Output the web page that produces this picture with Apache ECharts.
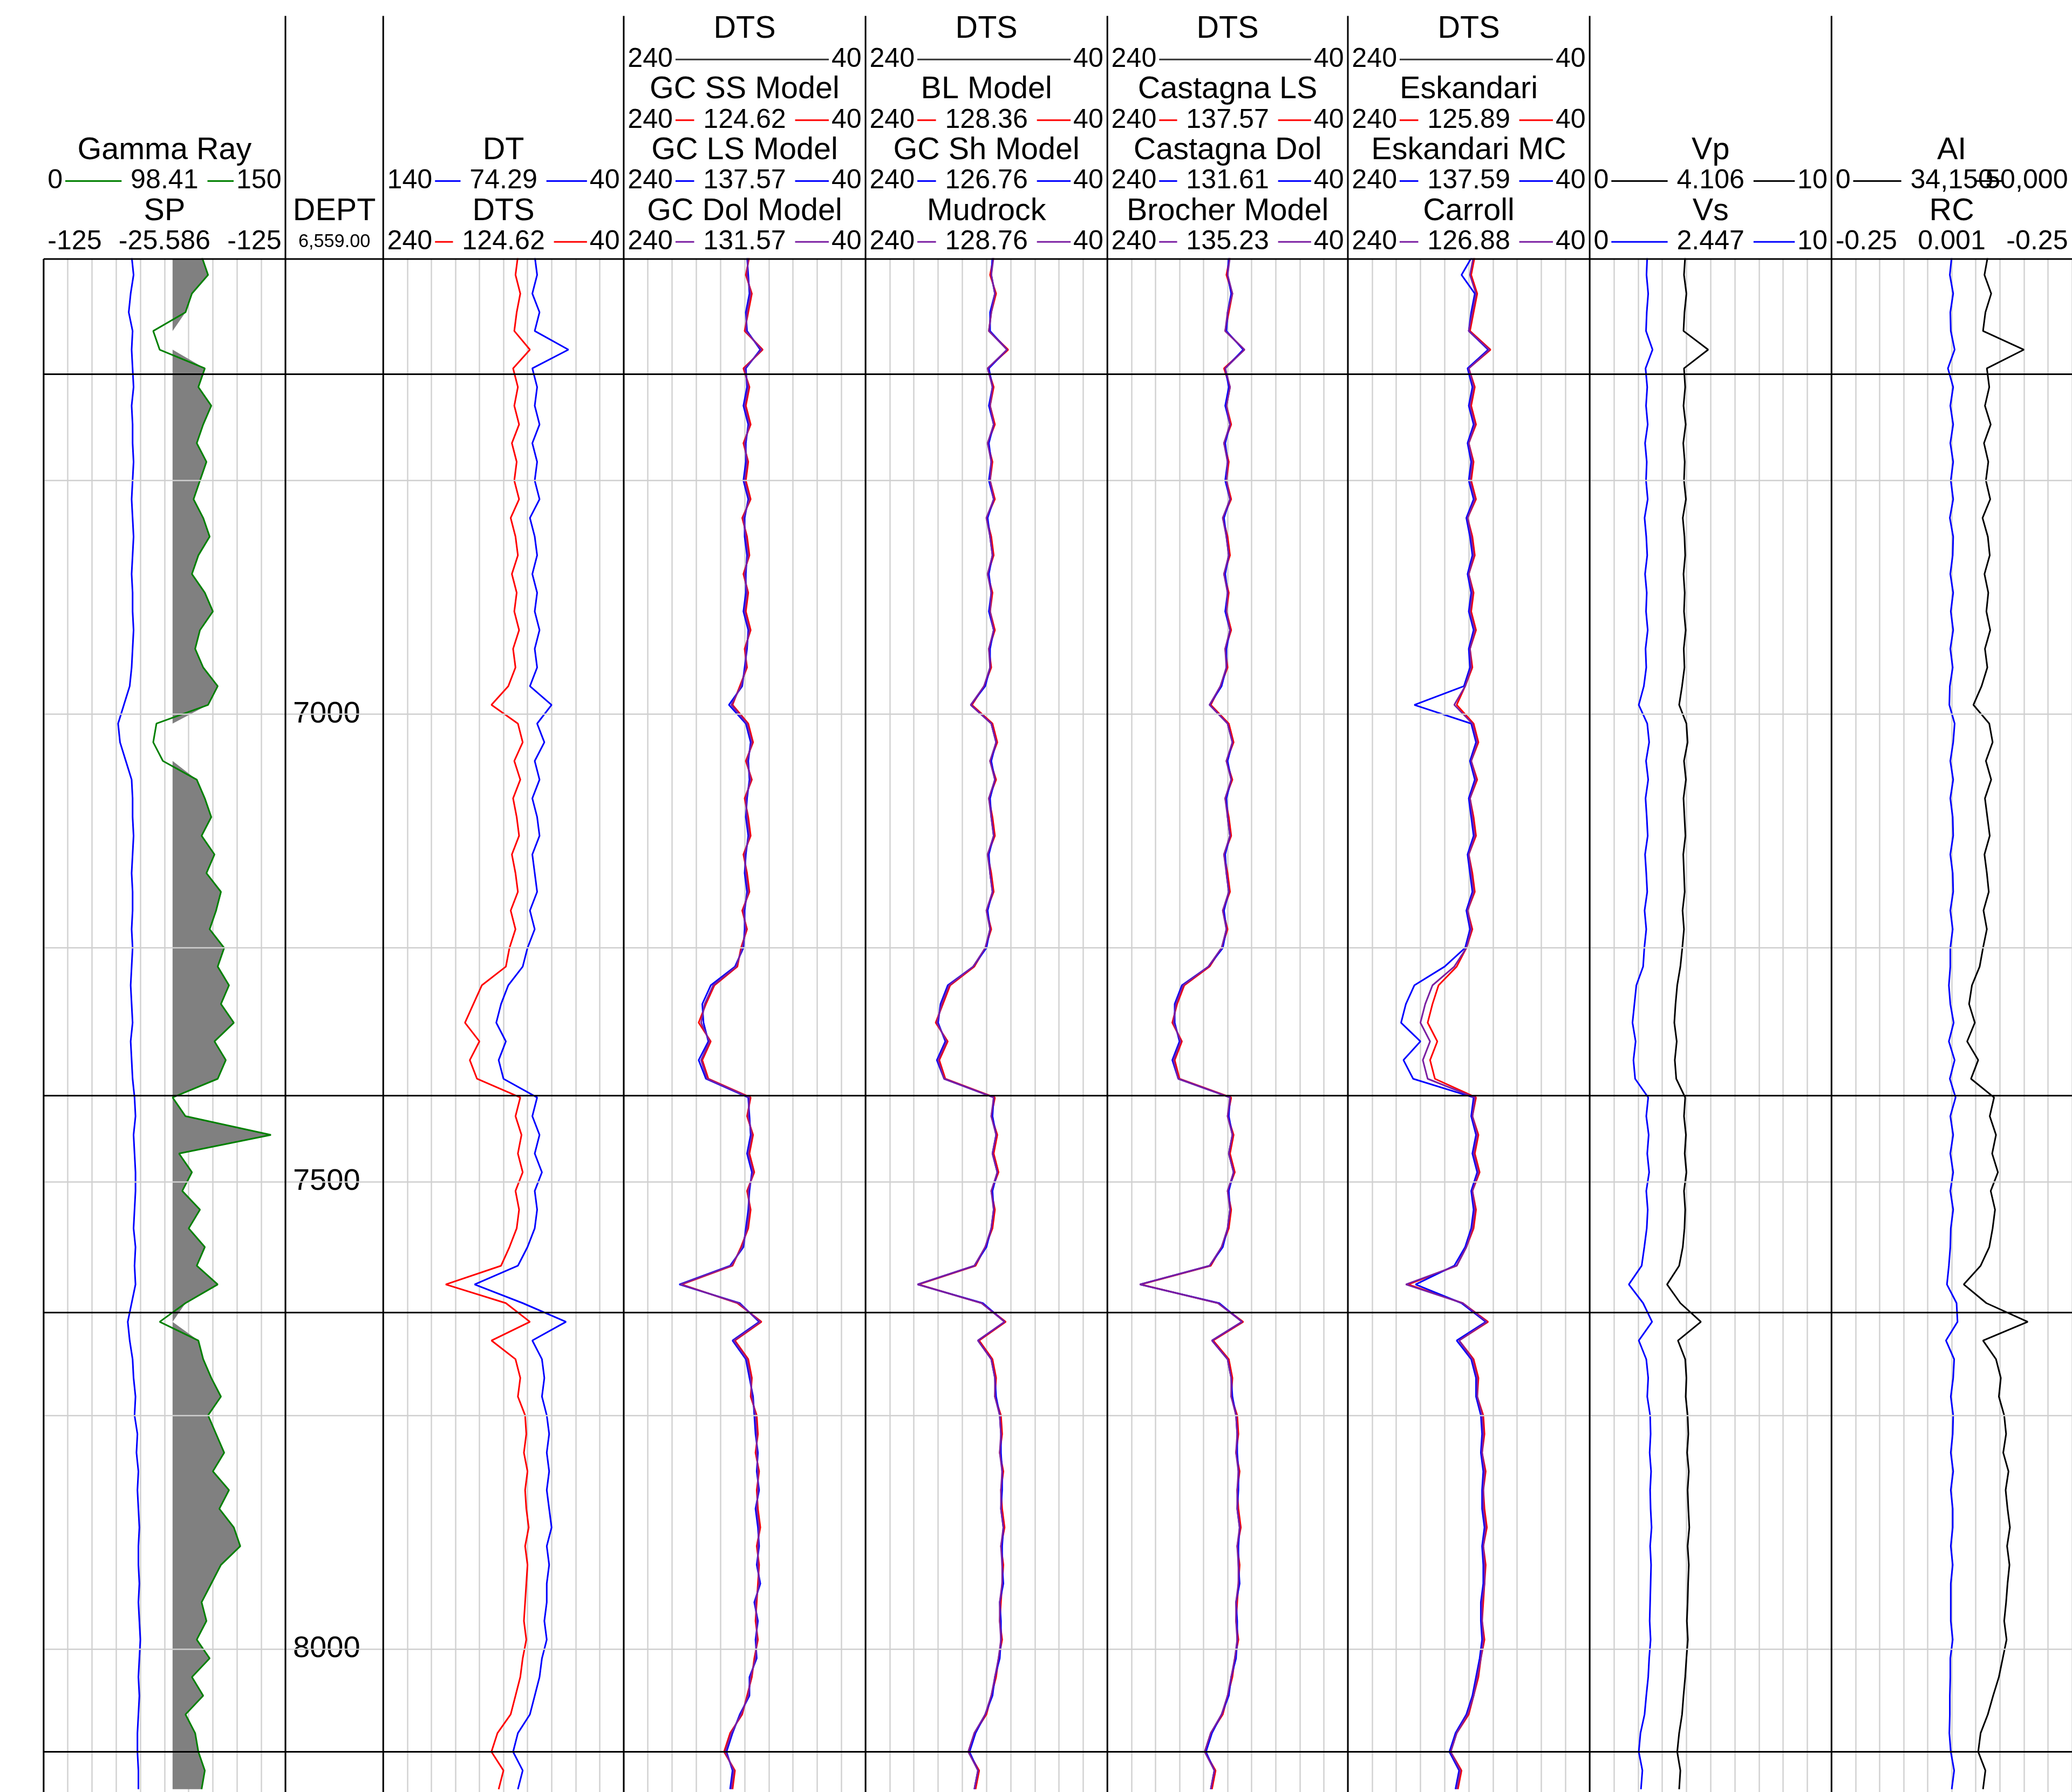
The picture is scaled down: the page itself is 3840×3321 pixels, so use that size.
<!DOCTYPE html>
<html>
<head>
<meta charset="utf-8">
<script src="https://cdn.jsdelivr.net/npm/echarts@6/dist/echarts.min.js"></script>
<style>html,body{margin:0;padding:0;background:#fff}#chart{width:3840px;height:3321px}</style>
</head>
<body>
<div id="chart"></div>
<script>
// depth samples every 20 ft
var depth = [];
for (var d = 6510; d <= 8150; d += 20) depth.push(d);

var gr = [98,102,92,88,68,72,100,96,104,99, 95,101,97,93,99,103,96,92,100,105, 97,94,99,108,102,70,68,74,95,100,
  104,98,106,101,110,107,103,112,108,115, 110,118,106,113,108,80,88,141,84,92, 86,97,90,100,95,108,88,72,96,99,
  104,110,102,107,112,105,115,109,118,122, 110,104,98,101,95,103,92,99,88,94, 96,100,98];
var sp = [-34,-32,-35,-37,-33,-34,-33,-32,-34,-33, -33,-32,-33,-34,-33,-32,-33,-34,-33,-33, -32,-33,-34,-36,-42,-48,-46,-40,-34,-33,
  -33,-32,-33,-34,-33,-33,-34,-33,-34,-35, -34,-33,-35,-34,-33,-31,-30,-32,-31,-30, -30,-31,-32,-30,-31,-30,-34,-38,-36,-33,
  -32,-30,-31,-28,-29,-27,-28,-27,-26,-27, -27,-26,-27,-26,-25,-26,-27,-26,-27,-28, -28,-27,-27];
var dt = [77,76,78,75,77,63,78,76,77,75, 78,76,77,75,79,77,76,78,76,77, 75,77,76,79,70,76,73,77,75,78,
  76,75,78,77,76,79,77,80,82,88, 91,93,89,92,90,76,78,75,77,74, 77,76,77,80,84,102,82,64,78,74,
  73,74,72,71,72,71,72,71,70,72, 71,72,72,73,72,74,75,77,79,84, 86,82,84];
var dts = [128,130,126,129,131,118,132,128,131,127, 133,129,131,127,134,130,128,133,129,131, 127,132,130,136,150,128,124,131,126,132,
  129,127,133,130,128,134,130,135,138,158, 165,172,160,168,162,126,130,125,128,124, 130,127,129,135,142,188,138,118,150,130,
  126,128,122,121,123,120,122,121,119,122, 120,121,122,123,121,124,126,130,134,145, 150,140,144];
var gcSS = [136,139,134,137,140,125,141,136,139,135, 141,137,139,135,142,138,136,141,137,139, 135,140,138,144,150,137,133,139,134,140,
  137,135,141,138,136,142,138,143,146,165, 172,178,168,175,170,135,138,133,136,132, 138,135,137,143,150,192,146,126,148,137,
  134,135,130,129,131,128,130,129,127,130, 128,129,130,131,129,132,134,138,142,152, 157,148,150];
var gcLS = [138,137,136,139,138,127,139,138,141,137, 139,139,141,137,140,140,138,139,139,141, 137,138,140,142,153,139,135,137,136,138,
  139,137,139,140,138,140,140,141,148,168, 175,174,170,178,172,137,136,135,138,134, 136,137,139,141,152,194,144,128,150,139,
  136,133,132,131,129,130,128,131,129,128, 130,127,132,129,131,130,136,136,144,150, 155,150,152];
var gcDol = [137,138,135,138,139,126,140,137,140,136, 140,138,140,136,141,139,137,140,138,140, 136,139,139,143,151,138,134,138,135,139,
  138,136,140,139,137,141,139,142,147,166, 173,176,169,176,171,136,137,134,137,133, 137,136,138,142,151,193,145,127,149,138,
  135,134,131,130,130,129,129,130,128,129, 129,128,131,130,130,131,135,137,143,151, 156,149,151];
var blModel = [134,137,132,136,138,122,139,134,137,133, 139,135,137,133,140,136,134,139,135,137, 133,138,136,142,152,135,131,137,132,138,
  135,133,139,136,134,140,136,141,150,170, 176,182,172,179,174,133,136,131,134,130, 136,133,135,141,149,196,144,124,146,135,
  132,133,128,127,129,126,128,127,125,128, 126,127,128,129,127,130,132,136,140,150, 155,146,149];
var gcSh = [135,136,133,137,137,123,138,135,138,134, 138,136,138,134,139,137,135,138,136,138, 134,137,137,141,153,136,132,136,133,137,
  136,134,138,137,135,139,137,140,151,172, 178,180,174,181,175,134,135,132,135,131, 135,134,136,140,150,197,143,125,147,136,
  133,132,129,128,128,127,127,128,126,127, 127,126,129,128,128,129,133,135,141,149, 154,147,150];
var mudrock = [134,136,133,136,138,123,139,135,137,134, 139,136,137,134,140,137,135,139,136,137, 134,138,137,142,153,136,132,137,133,138,
  136,134,139,137,135,140,137,141,151,171, 177,181,173,180,175,134,136,132,135,131, 136,134,136,141,150,197,144,125,147,136,
  133,133,129,128,129,127,128,128,126,128, 127,127,129,129,128,130,133,136,141,150, 155,147,150];
var casLS = [138,141,136,139,142,126,143,138,141,137, 143,139,141,137,144,140,138,143,139,141, 137,142,140,146,154,139,135,141,136,142,
  139,137,143,140,138,144,140,145,155,176, 182,186,178,184,180,137,140,135,138,134, 140,137,139,145,154,212,148,127,152,139,
  136,137,132,131,133,130,132,131,129,132, 130,131,132,133,131,134,136,140,144,154, 159,150,153];
var casDol = [139,140,137,140,141,127,142,139,142,138, 142,140,142,138,143,141,139,142,140,142, 138,141,141,145,155,140,136,140,137,141,
  140,138,142,141,139,143,141,144,156,178, 184,184,180,186,181,138,139,136,139,135, 139,138,140,144,155,213,147,128,153,140,
  137,136,133,132,132,131,131,132,130,131, 131,130,133,132,132,133,137,139,145,153, 158,151,154];
var brocher = [138,140,136,140,142,126,142,138,141,138, 143,140,141,138,144,141,139,143,140,141, 138,142,141,146,155,140,136,141,137,142,
  140,138,143,141,139,144,141,145,156,177, 183,185,179,185,181,138,140,136,139,135, 140,138,140,145,155,213,148,128,153,140,
  137,137,133,132,133,131,132,132,130,132, 131,131,133,133,132,134,137,140,145,154, 159,151,154];
var eskandari = [135,138,133,136,139,122,140,135,138,134, 140,136,138,134,141,137,135,140,136,138, 134,139,137,143,150,136,132,138,133,139,
  136,134,140,137,135,141,137,142,150,165, 170,174,166,172,168,134,137,132,135,131, 137,134,136,142,150,190,145,124,148,136,
  132,133,128,127,129,126,128,127,125,128, 126,127,128,129,127,130,132,136,140,150, 155,146,149];
var eskMC = [137,146,135,138,140,124,141,137,140,136, 141,138,140,136,142,139,137,141,138,140, 136,140,139,144,185,138,134,139,135,140,
  138,136,141,139,137,142,139,143,160,185, 192,196,180,194,186,136,138,134,137,133, 138,136,138,143,152,184,146,126,150,138,
  134,134,130,129,130,128,129,129,127,129, 128,128,130,130,129,131,134,137,142,151, 156,148,151];
var carroll = [136,139,134,137,140,123,140,136,139,135, 140,137,139,135,141,138,136,140,137,139, 135,139,138,143,152,137,133,138,134,139,
  137,135,140,138,136,141,138,142,152,170, 176,180,172,178,174,135,137,133,136,132, 137,135,137,142,150,192,145,125,148,137,
  133,133,129,128,129,127,128,128,126,128, 127,127,129,129,128,130,133,136,141,150, 155,147,150];
var vp = [3.95,3.9,4.0,3.92,3.88,4.9,3.9,3.95,3.88,3.97, 3.87,3.93,3.9,3.98,3.85,3.92,3.95,3.88,3.93,3.9, 3.97,3.89,3.92,3.82,3.7,4.0,4.05,3.9,3.98,3.88,
  3.92,3.96,3.87,3.9,3.93,3.84,3.9,3.83,3.75,3.62, 3.55,3.5,3.6,3.52,3.58,3.95,3.9,3.98,3.93,4.0, 3.9,3.95,3.92,3.85,3.7,3.2,3.75,4.6,3.65,3.95,
  4.0,3.97,4.05,4.08,4.03,4.1,4.05,4.08,4.12,4.05, 4.1,4.07,4.05,4.02,4.06,4.0,3.95,3.88,3.82,3.7, 3.62,3.75,3.7];
var vs = [2.38,2.35,2.42,2.36,2.33,2.6,2.31,2.38,2.33,2.4, 2.29,2.36,2.33,2.4,2.27,2.34,2.38,2.29,2.36,2.33, 2.4,2.31,2.34,2.24,2.03,2.38,2.46,2.33,2.42,2.31,
  2.36,2.4,2.29,2.34,2.38,2.27,2.34,2.26,2.21,1.93, 1.85,1.77,1.9,1.81,1.88,2.42,2.34,2.44,2.38,2.46, 2.34,2.4,2.36,2.26,2.15,1.62,2.21,2.58,2.03,2.34,
  2.42,2.38,2.5,2.52,2.48,2.54,2.5,2.52,2.56,2.5, 2.54,2.52,2.5,2.48,2.52,2.46,2.42,2.34,2.27,2.1, 2.03,2.18,2.12];
var ai = [32500,31800,33200,32000,31500,40000,32300,32800,31900,33100, 31700,32600,32100,33000,31400,32500,32900,31800,32600,32200,
  33000,31900,32400,31200,29500,32800,33500,32100,33200,31900, 32400,32900,31800,32300,32700,31600,32300,31500,30800,29200,
  28600,29800,28200,30500,29000,33800,32900,34200,33400,34600, 33100,34000,33500,32800,31000,27500,32200,40800,31500,34200,
  35200,34800,35900,36300,35700,36800,36200,36600,37100,36500, 37000,36600,36300,35900,36400,35600,34800,33600,32500,31000, 30500,32000,31500];
var rc = [0.0,-0.004,0.003,-0.003,-0.002,0.006,-0.008,0.003,-0.003,0.003, -0.003,0.003,-0.002,0.003,-0.004,0.003,0.002,-0.003,0.003,-0.002,
  0.003,-0.003,0.002,-0.004,-0.005,0.006,0.003,-0.003,0.003,-0.003, 0.002,0.003,-0.003,0.002,0.003,-0.003,0.002,-0.003,-0.003,-0.006,
  -0.003,0.004,-0.006,0.006,-0.004,0.008,-0.003,0.003,-0.003,0.003, -0.003,0.003,-0.002,-0.003,-0.006,-0.01,0.01,0.012,-0.012,0.005,
  0.003,-0.002,0.003,0.002,-0.002,0.003,-0.002,0.002,0.002,-0.002, 0.002,-0.002,-0.002,-0.002,0.002,-0.003,-0.003,-0.004,-0.004,-0.005, -0.002,0.005,0.0];

var zoneTops = [6636, 7408, 7640, 8110];
var gridDepths = [6750, 7000, 7250, 7500, 7750, 8000];
var depthLabels = [7000, 7500, 8000];
var GR_CUT = 80;

var S = 3840 / 1568;
function P(v) { return v * S; }
var trackX = [33, 216, 290, 472, 655, 838, 1020, 1203, 1386, 1568];
var TOP = 196, DMIN = 6513, DMAX = 8153;
var FONT = '"Liberation Sans", Arial, sans-serif';
var RED = '#ff0000', BLUE = '#0000ff', PURPLE = '#7b1fa2', GREEN = '#008000';

var chart = echarts.init(document.getElementById('chart'));

var grids = [], xAxes = [], yAxes = [], series = [];
for (var t = 0; t < 9; t++) {
  grids.push({ left: P(trackX[t]), width: P(trackX[t + 1] - trackX[t]), top: P(TOP), bottom: 0, show: false });
  yAxes.push({ gridIndex: t, type: 'value', inverse: true, min: DMIN, max: DMAX,
    show: t === 1, axisLine: { show: false }, axisTick: { show: false }, splitLine: { show: false },
    axisLabel: { show: t === 1, inside: true, customValues: depthLabels, fontSize: 56, color: '#000', fontFamily: FONT,
      margin: 14, formatter: function (v) { return String(v); } } });
  // frame axis: 10 vertical divisions
  xAxes.push({ gridIndex: t, type: 'value', min: 0, max: 10, interval: 1, show: true,
    axisLine: { show: false }, axisTick: { show: false }, axisLabel: { show: false },
    splitLine: { show: t !== 1, lineStyle: { color: '#d2d2d2', width: 2.5 } } });
  var ml = [];
  gridDepths.forEach(function (v) { ml.push({ yAxis: v, lineStyle: { color: '#cfcfcf', width: 2.5, type: 'solid' } }); });
  zoneTops.forEach(function (v) { ml.push({ yAxis: v, lineStyle: { color: '#000', width: 3, type: 'solid' } }); });
  series.push({ type: 'line', xAxisIndex: xAxes.length - 1, yAxisIndex: t, data: [[5, DMIN]], showSymbol: false,
    lineStyle: { opacity: 0 }, silent: true,
    markLine: { symbol: 'none', silent: true, label: { show: false }, animation: false, data: ml } });
}

function pts(arr) { return arr.map(function (v, i) { return [v, depth[i]]; }); }
function curve(track, min, max, inverse, arr, color, z) {
  xAxes.push({ gridIndex: track, type: 'value', min: min, max: max, inverse: inverse, show: false });
  var xi = xAxes.length - 1;
  series.push({ type: 'line', xAxisIndex: xi, yAxisIndex: track, data: pts(arr), showSymbol: false,
    animation: false, z: z || 3, lineStyle: { color: color, width: 3 }, itemStyle: { color: color } });
  return xi;
}

// track 0: GR with shale fill, SP
var grAxis = curve(0, 0, 150, false, gr, GREEN, 4);
series.push({ type: 'custom', xAxisIndex: grAxis, yAxisIndex: 0, data: [[GR_CUT, 7000]], clip: true, z: 2, animation: false,
  renderItem: function (params, api) {
    var p = gr.map(function (v, i) { return api.coord([Math.max(v, GR_CUT), depth[i]]); });
    p.push(api.coord([GR_CUT, depth[depth.length - 1]]));
    p.push(api.coord([GR_CUT, depth[0]]));
    return { type: 'polygon', shape: { points: p }, style: { fill: '#808080' } };
  } });
curve(0, -125, 125, false, sp, BLUE);
// track 2: DT / DTS
curve(2, 40, 140, true, dt, BLUE);
curve(2, 40, 240, true, dts, RED);
// model tracks
var models = [
  [3, gcSS, gcLS, gcDol], [4, blModel, gcSh, mudrock],
  [5, casLS, casDol, brocher], [6, eskandari, eskMC, carroll]
];
models.forEach(function (m) {
  curve(m[0], 40, 240, true, m[1], RED);
  curve(m[0], 40, 240, true, m[2], BLUE);
  curve(m[0], 40, 240, true, m[3], PURPLE, 4);
});
// track 7: Vp / Vs
curve(7, 0, 10, false, vs, BLUE);
curve(7, 0, 10, false, vp, '#000');
// track 8: AI / RC
curve(8, -0.25, 0.25, false, rc, BLUE);
curve(8, 0, 50000, false, ai, '#000');

// header and track frames
var g = [];
function txt(x, y, s, fs, align) {
  g.push({ type: 'text', x: P(x), y: P(y), z: 10, style: { text: s, fontSize: P(fs), fontFamily: FONT, fill: '#000',
    align: align || 'center', verticalAlign: 'middle' } });
}
function ln(x0, y0, x1, y1, color, w) {
  g.push({ type: 'line', z: 10, shape: { x1: P(x0), y1: P(y0), x2: P(x1), y2: P(y1) }, style: { stroke: color, lineWidth: w || 3 } });
}
function scaleRow(ti, y, l, m, r, color) {
  var x0 = trackX[ti], x1 = trackX[ti + 1], fs = 20.5, cw = 0.556 * fs;
  var cx = (x0 + x1) / 2;
  txt(x0 + 3, y, l, fs, 'left');
  txt(x1 - 3, y, r, fs, 'right');
  var la = x0 + 3 + l.length * cw + 2, rb = x1 - 3 - r.length * cw - 2;
  if (m) {
    var mw = m.length * cw;
    txt(cx, y, m, fs, 'center');
    if (color) { ln(la, y, cx - mw / 2 - 4, y, color); ln(cx + mw / 2 + 4, y, rb, y, color); }
  } else if (color) ln(la, y, rb, y, color);
}
function name(ti, y, s) { txt((trackX[ti] + trackX[ti + 1]) / 2, y, s, 23.5, 'center'); }

[216, 290, 472, 655, 838, 1020, 1203, 1386].forEach(function (x) { ln(x, 12, x, 1360, '#000', 3); });
ln(33, TOP, 33, 1360, '#000', 3);
ln(33, TOP, 1568, TOP, '#000', 3);

name(0, 114, 'Gamma Ray'); scaleRow(0, 137, '0', '98.41', '150', GREEN);
name(0, 160, 'SP'); scaleRow(0, 183, '-125', '-25.586', '-125', null);
name(1, 160, 'DEPT'); txt(253, 183, '6,559.00', 14, 'center');
name(2, 114, 'DT'); scaleRow(2, 137, '140', '74.29', '40', BLUE);
name(2, 160, 'DTS'); scaleRow(2, 183, '240', '124.62', '40', RED);

var modelHdr = [
  [3, 'GC SS Model', '124.62', 'GC LS Model', '137.57', 'GC Dol Model', '131.57'],
  [4, 'BL Model', '128.36', 'GC Sh Model', '126.76', 'Mudrock', '128.76'],
  [5, 'Castagna LS', '137.57', 'Castagna Dol', '131.61', 'Brocher Model', '135.23'],
  [6, 'Eskandari', '125.89', 'Eskandari MC', '137.59', 'Carroll', '126.88']
];
modelHdr.forEach(function (h) {
  name(h[0], 22, 'DTS'); scaleRow(h[0], 45, '240', '', '40', '#333');
  name(h[0], 68, h[1]); scaleRow(h[0], 91, '240', h[2], '40', RED);
  name(h[0], 114, h[3]); scaleRow(h[0], 137, '240', h[4], '40', BLUE);
  name(h[0], 160, h[5]); scaleRow(h[0], 183, '240', h[6], '40', PURPLE);
});
name(7, 114, 'Vp'); scaleRow(7, 137, '0', '4.106', '10', '#000');
name(7, 160, 'Vs'); scaleRow(7, 183, '0', '2.447', '10', BLUE);
name(8, 114, 'AI'); scaleRow(8, 137, '0', '34,150', '50,000', '#000');
name(8, 160, 'RC'); scaleRow(8, 183, '-0.25', '0.001', '-0.25', null);

chart.setOption({
  backgroundColor: '#fff',
  animation: false,
  grid: grids,
  xAxis: xAxes,
  yAxis: yAxes,
  series: series,
  graphic: g
});
</script>
</body>
</html>
